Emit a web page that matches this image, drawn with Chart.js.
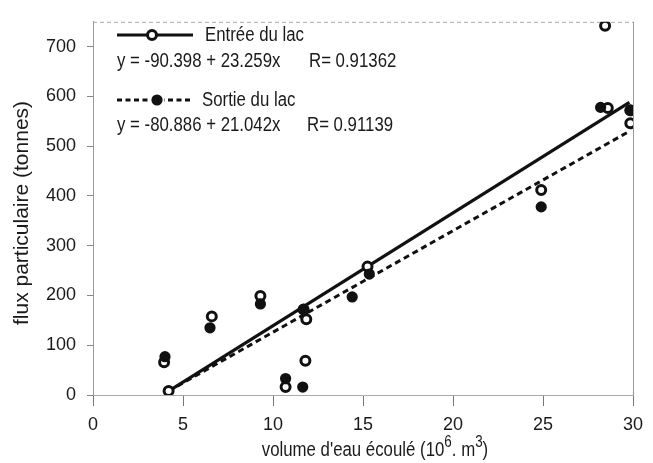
<!DOCTYPE html>
<html><head><meta charset="utf-8">
<script src="https://cdn.jsdelivr.net/npm/chart.js@4"></script>
<style>html,body{margin:0;padding:0;background:#fff;}#wrap{width:653px;height:463px;position:relative;}</style>
</head><body><div id="wrap"><canvas id="c" width="653" height="463"></canvas></div>
<script>
// ---- data ----
const entreeX = [4.2, 3.95, 6.6, 9.3, 11.7, 11.85, 11.8, 10.7, 15.25, 24.9, 28.45, 28.6, 29.85, 29.85];
const entreeY = [8, 66, 158, 199, 172, 152, 69, 16, 258, 412, 742, 577, 572, 546];
const sortieX = [4.0, 6.5, 9.3, 11.7, 10.7, 11.65, 14.4, 15.35, 24.9, 28.2, 29.85];
const sortieY = [77, 135, 183, 172, 33, 16, 197, 243, 378, 578, 572];
const fitEntreeX = [4.2, 29.8];
const fitEntreeY = [8, 588];
const fitSortieX = [4.2, 29.8];
const fitSortieY = [8, 530];
const xTicks = [0, 5, 10, 15, 20, 25, 30];
const yTicks = [0, 100, 200, 300, 400, 500, 600, 700];
const legendLabels = ["Entrée du lac", "Sortie du lac"];
const equations = ["y = -90.398 + 23.259x", "y = -80.886 + 21.042x"];
const rValues = ["R= 0.91362", "R= 0.91139"];
const xTitleParts = ["volume d'eau écoulé (10", "6", ". m", "3", ")"];
const yTitle = "flux particulaire (tonnes)";

const FONT = "'Liberation Sans',Arial,Helvetica,sans-serif";
const SX = 0.84; // horizontal squeeze to imitate a narrow face
const pts = (xs, ys) => xs.map((x, i) => ({x: x, y: ys[i]}));

function narrowText(ctx, text, x, y, font) {
  ctx.save();
  ctx.font = font;
  ctx.translate(x, y);
  ctx.scale(SX, 1);
  ctx.fillText(text, 0, 0);
  ctx.restore();
}
function narrowWidth(ctx, text, font) { ctx.font = font; return ctx.measureText(text).width * SX; }

const framePlugin = {
  id: 'frame',
  beforeDatasetsDraw(chart) {
    const {ctx, chartArea: a} = chart;
    ctx.save();
    ctx.strokeStyle = '#aaa';
    ctx.lineWidth = 1;
    ctx.setLineDash([4, 3]);
    ctx.beginPath(); ctx.moveTo(a.left, a.top + 0.5); ctx.lineTo(a.right, a.top + 0.5); ctx.stroke();
    ctx.setLineDash([]);
    ctx.strokeStyle = '#999';
    ctx.beginPath(); ctx.moveTo(a.right + 0.5, a.top); ctx.lineTo(a.right + 0.5, a.bottom); ctx.stroke();
    ctx.restore();
  },
  afterDraw(chart) {
    const {ctx, chartArea: a} = chart;
    ctx.save();
    ctx.textBaseline = 'middle';
    ctx.textAlign = 'left';
    // legend samples
    ctx.strokeStyle = '#111';
    ctx.lineWidth = 3;
    ctx.beginPath(); ctx.moveTo(117, 35); ctx.lineTo(193, 35); ctx.stroke();
    ctx.beginPath(); ctx.arc(152, 35, 4.5, 0, Math.PI * 2);
    ctx.fillStyle = '#fff'; ctx.fill(); ctx.lineWidth = 3; ctx.stroke();
    ctx.setLineDash([5, 3.5]);
    ctx.lineWidth = 3;
    ctx.beginPath(); ctx.moveTo(117, 100); ctx.lineTo(190, 100); ctx.stroke();
    ctx.setLineDash([]);
    ctx.fillStyle = '#fff';
    ctx.fillRect(150, 93, 14, 14);
    ctx.fillStyle = '#111';
    ctx.beginPath(); ctx.arc(157, 100, 5.6, 0, Math.PI * 2); ctx.fill();
    // legend texts
    const big = '20px ' + FONT, sup = '16px ' + FONT;
    ctx.fillStyle = '#1a1a1a';
    narrowText(ctx, legendLabels[0], 205, 35, big);
    narrowText(ctx, equations[0], 117, 61, big);
    narrowText(ctx, rValues[0], 309, 61, big);
    narrowText(ctx, legendLabels[1], 202, 100, big);
    narrowText(ctx, equations[1], 117, 125, big);
    narrowText(ctx, rValues[1], 307, 125, big);
    // x title with superscripts
    const fonts = [big, sup, big, sup, big];
    const dy = [0, -7, 0, -7, 0];
    const widths = xTitleParts.map((t, i) => narrowWidth(ctx, t, fonts[i]));
    const total = widths.reduce((s, w) => s + w, 0);
    let x = 375 - total / 2;
    xTitleParts.forEach((t, i) => { narrowText(ctx, t, x, 450 + dy[i], fonts[i]); x += widths[i]; });
    // y title, rotated
    ctx.save();
    ctx.translate(22, 213);
    ctx.rotate(-Math.PI / 2);
    ctx.textAlign = 'center';
    ctx.font = '21px ' + FONT;
    ctx.fillText(yTitle, 0, 0);
    ctx.restore();
    ctx.restore();
  }
};

new Chart(document.getElementById('c'), {
  type: 'scatter',
  data: {
    datasets: [
      {label: 'fitE', data: pts(fitEntreeX, fitEntreeY), showLine: true, borderColor: '#111', borderWidth: 3.2, pointRadius: 0, order: 4},
      {label: 'fitS', data: pts(fitSortieX, fitSortieY), showLine: true, borderColor: '#111', borderWidth: 3, borderDash: [6, 4], pointRadius: 0, order: 3},
      {label: legendLabels[0], data: pts(entreeX, entreeY), pointRadius: 4.5, pointBorderWidth: 3, pointBackgroundColor: '#fff', pointBorderColor: '#111', order: 2},
      {label: legendLabels[1], data: pts(sortieX, sortieY), pointRadius: 5.6, pointBorderWidth: 0, pointBackgroundColor: '#111', pointBorderColor: '#111', order: 1}
    ]
  },
  options: {
    responsive: false,
    animation: false,
    events: [],
    layout: {padding: {top: 15, right: 20, left: 0, bottom: 0}},
    plugins: {legend: {display: false}, tooltip: {enabled: false}},
    scales: {
      x: {
        type: 'linear', min: 0, max: 30,
        afterBuildTicks: s => { s.ticks = xTicks.map(v => ({value: v})); },
        afterFit: s => { s.height = 68; },
        grid: {drawOnChartArea: false, tickLength: 11, color: '#777', tickWidth: 1},
        border: {display: true, color: '#aaa', width: 1, dash: [4, 3]},
        ticks: {font: {family: FONT, size: 18}, color: '#1a1a1a', padding: 8, maxRotation: 0, autoSkip: false},
        title: {display: false}
      },
      y: {
        type: 'linear', min: 0, max: 750,
        afterBuildTicks: s => { s.ticks = yTicks.map(v => ({value: v})); },
        afterFit: s => { s.width = 93; },
        grid: {drawOnChartArea: false, tickLength: 6, color: '#888', tickWidth: 1},
        border: {display: true, color: '#999', width: 1},
        ticks: {font: {family: FONT, size: 18}, color: '#1a1a1a', padding: 11, autoSkip: false},
        title: {display: false}
      }
    }
  },
  plugins: [framePlugin]
});
</script></body></html>
